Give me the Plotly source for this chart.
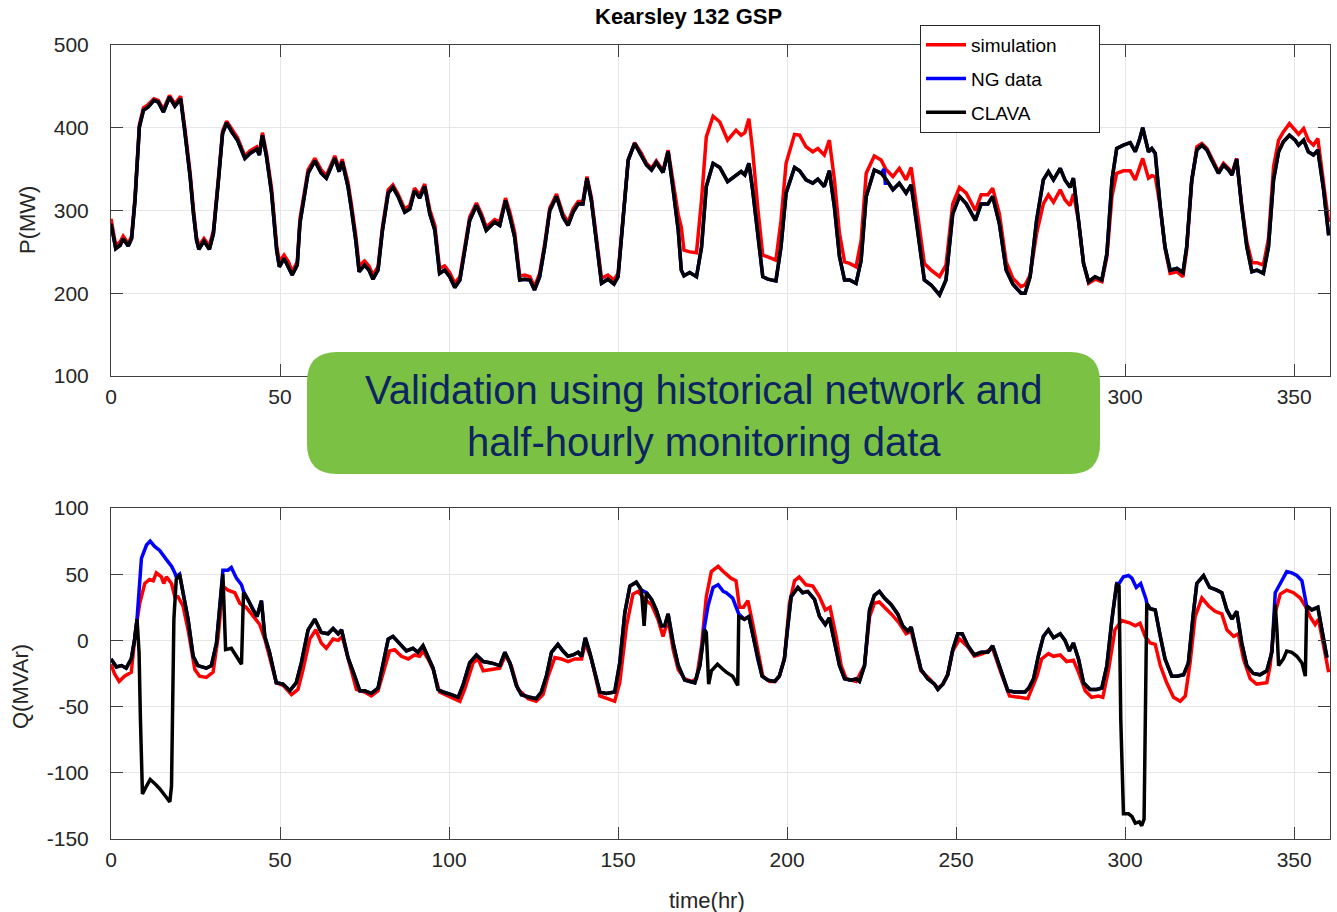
import plotly.graph_objects as go

W, H = 1337, 912

# ---------------- Top panel: active power P (MW) ----------------
T_P = [0, 1.4, 2.7, 3.6, 5.1, 6.1, 7.1, 8.4, 9.6, 11, 12.7, 14, 15.5, 17.3, 18.9, 20.6, 21.9, 23.4, 24.4, 25.3,
       26, 27.5, 29.1, 30.3, 31.8, 33, 34.2, 35.7, 37.4, 39.6, 41.1, 43.1, 43.9, 44.8, 46, 47.5, 49, 49.8, 51.2, 52.5,
       53.6, 55.1, 55.9, 58.3, 60.3, 62.2, 63.7, 66.2, 67.5, 68.4, 70.1, 71.1, 72.4, 73.4, 75, 76.3, 77.5, 79, 80.3, 82,
       83.4, 84.9, 86.9, 88.4, 89.8, 91.3, 92.8, 94.3, 95.8, 97.2, 98.7, 100.2, 101.7, 103.2, 104.6, 106.1, 108.1, 109.6, 111, 113.5,
       115, 116.7, 118, 119.4, 120.9, 122.4, 123.9, 125.3, 126.8, 128.3, 129.8, 131.8, 133.7, 135.2, 136.7, 138.2, 139.6, 140.8, 142.1, 143.6,
       145.1, 147, 148.8, 150, 151.5, 153, 154.9, 156.9, 158.4, 159.9, 161.3, 163.3, 164.8, 166.3, 167.8, 168.7, 169.5, 171.2, 173.2, 174.7,
       176.1, 178.1, 180.1, 182.4, 184.9, 186.4, 187.5, 188.7, 189.8, 191.3, 192.8, 194.3, 196.7, 198.2, 199.7, 202.2, 203.7, 205.6, 207.6, 209.1,
       211, 212.5, 214, 215.5, 217, 218.5, 220.4, 221.9, 223.4, 225.8, 227.8, 229.2, 231.3, 233.2, 235.2, 236.7, 238.2, 240.6, 242.6, 245.1,
       247, 249, 251, 253, 255.7, 257.4, 259.4, 260.8, 262.8, 264.8, 266.8, 269.2, 270.4, 271.9, 273.8, 275.8, 277.3, 278.8, 280.8, 282.2,
       283.7, 284.7, 286.2, 287.7, 289.2, 291.1, 293.1, 294.6, 296.1, 297.5, 299.5, 301.5, 303, 304.2, 305.2, 306.9, 307.9, 308.9, 310.4, 311.8,
       313.3, 315.3, 317.1, 318.2, 319.7, 321.2, 322.7, 324.2, 325.6, 327.6, 329.1, 330.6, 331.6, 333, 334.5, 336, 337.5, 339, 340.9, 342.4,
       343.9, 345.4, 346.8, 348.6, 350.3, 351.3, 352.8, 354.2, 355.7, 357, 358.7, 360.2]

P_CLAVA = [284, 254, 258, 266, 257, 266, 312, 401, 421, 425, 433, 431, 419, 437, 426, 435, 393, 341, 296, 264,
           253, 263, 253, 272, 337, 393, 406, 395, 385, 363, 369, 374, 367, 391, 365, 321, 252, 232, 242, 232,
           222, 234, 285, 345, 360, 345, 339, 363, 347, 359, 329, 302, 264, 226, 234, 228, 217, 228, 276, 321,
           328, 317, 298, 302, 324, 315, 329, 296, 276, 224, 228, 220, 207, 216, 252, 288, 306, 292, 276, 286,
           282, 312, 292, 268, 216, 217, 216, 204, 220, 256, 300, 317, 292, 282, 298, 308, 308, 339, 312, 264,
           212, 217, 211, 220, 296, 361, 381, 367, 355, 349, 358, 346, 371, 325, 276, 228, 221, 225, 220, 256,
           329, 357, 352, 335, 343, 347, 343, 357, 325, 276, 220, 217, 215, 256, 321, 352, 348, 337, 333, 338,
           329, 348, 304, 244, 216, 216, 212, 240, 317, 349, 345, 338, 325, 333, 321, 331, 289, 216, 210, 198,
           216, 296, 317, 308, 288, 308, 308, 317, 284, 228, 211, 200, 200, 220, 288, 337, 347, 337, 351, 337,
           328, 339, 288, 236, 214, 220, 216, 248, 337, 375, 379, 382, 371, 385, 400, 371, 375, 369, 304, 256,
           228, 230, 225, 256, 337, 373, 379, 373, 361, 345, 355, 349, 343, 362, 304, 256, 226, 228, 224, 256,
           337, 371, 383, 391, 385, 379, 385, 371, 367, 373, 325, 270]

P_SIM = [290, 258, 262, 269, 260, 269, 316, 404, 424, 428, 435, 433, 422, 439, 429, 438, 398, 346, 301, 268,
         257, 266, 257, 276, 341, 396, 408, 398, 388, 366, 372, 377, 370, 394, 369, 327, 258, 238, 246, 238,
         226, 238, 290, 349, 363, 349, 342, 366, 351, 362, 334, 308, 270, 233, 239, 233, 222, 232, 280, 325,
         331, 320, 302, 306, 327, 319, 332, 301, 282, 230, 233, 225, 212, 220, 256, 292, 309, 296, 280, 289,
         286, 315, 298, 274, 221, 222, 220, 208, 224, 260, 303, 320, 296, 286, 302, 311, 311, 341, 316, 268,
         218, 222, 216, 224, 294, 361, 382, 369, 357, 351, 360, 348, 373, 332, 295, 280, 252, 250, 249, 313,
         389, 414, 407, 385, 397, 391, 394, 411, 373, 304, 246, 244, 240, 288, 357, 392, 391, 377, 371, 375,
         367, 385, 337, 272, 238, 236, 232, 264, 345, 366, 361, 350, 341, 351, 337, 352, 308, 236, 228, 220,
         234, 308, 328, 321, 300, 319, 319, 327, 296, 238, 218, 208, 210, 222, 272, 308, 319, 310, 325, 313,
         306, 320, 288, 236, 212, 217, 214, 244, 317, 345, 348, 348, 337, 350, 363, 339, 342, 341, 304, 254,
         224, 226, 220, 252, 335, 377, 381, 375, 363, 347, 357, 351, 345, 363, 306, 262, 237, 237, 234, 266,
         353, 385, 395, 405, 397, 392, 399, 385, 379, 387, 333, 286]

# NG data (top) coincides with CLAVA except for this short stretch
P_NG_SEG_T = [228.7, 229.1]
P_NG_SEG_V = [350, 331]

# ---------------- Bottom panel: reactive power Q (MVAr) ----------------
T_QC = [0, 1.6, 3.1, 4.5, 6, 7, 7.7, 8.3, 8.7, 9.3, 10.5, 11.6, 12.9, 14.4, 15.9, 17.4, 17.9, 18.6, 19.3, 20.3,
        21.3, 22.8, 24.3, 25.7, 28.2, 29.7, 31.2, 32.2, 33.1, 33.9, 35.6, 37.1, 38.6, 39.2, 40.5, 42, 43.2, 44.5, 45.5, 46.9,
        48.9, 50.9, 52.9, 54.8, 56.3, 58.3, 60.3, 62.2, 64.2, 65.7, 67.2, 68.2, 70.1, 72.1, 73.6, 75, 77, 79, 80.5, 82,
        83.4, 85.4, 87.4, 89.3, 90.8, 92.3, 93.8, 95.3, 96.7, 98.2, 100.7, 102.7, 104.1, 106.1, 108.1, 110.1, 112.5, 115, 116.5, 118,
        119.9, 121.4, 123.9, 125.8, 127.3, 128.8, 130.3, 132.2, 133.7, 135.2, 136.7, 138.2, 139.2, 140.3, 141.6, 143.1, 144.6, 146.5, 149, 150.5,
        152, 153.5, 155.4, 156.9, 157.7, 158.4, 159.9, 161.3, 162.8, 163.8, 164.8, 166.3, 167.8, 169.7, 171.2, 172.7, 174.2, 175.6, 176.1, 176.8,
        177.6, 179.4, 181.1, 182, 183.9, 185.4, 185.7, 187.4, 188.7, 189.8, 191.3, 192.6, 194.3, 196.3, 197.7, 199.2, 200.2, 201.2, 203.2, 204.6,
        206.1, 208.1, 209.6, 211.3, 212.5, 214, 215.5, 217, 218.9, 220.4, 221.4, 222.9, 224.4, 225.8, 227.3, 228.8, 230.8, 232.7, 234.2, 235.7,
        236.7, 238.2, 239.6, 241.6, 243.6, 244.6, 246.1, 247.5, 249, 250.5, 251.8, 253.5, 255.4, 257.4, 259.4, 260.8, 262.8, 265.3, 267.3, 269.2,
        270.4, 271.5, 272.9, 274.4, 275.8, 277.3, 278.8, 280.8, 282.2, 283.5, 284.7, 286.2, 287.7, 289.6, 291.6, 293.1, 294.6, 296.1, 297.5, 298.2,
        298.7, 299.5, 301, 302, 303, 304.2, 304.9, 305.6, 306, 306.4, 307.4, 308.9, 310.4, 311.8, 313.8, 315.3, 317.3, 318.7, 320.2, 321.2,
        323.2, 325, 327.1, 328.6, 330.1, 331.6, 333, 334.5, 336, 337.9, 339.9, 341.9, 343.4, 344.4, 344.9, 345.4, 346.8, 347.8, 349.3, 350.8,
        352.3, 353.3, 353.7, 355.2, 357, 358.2, 359.7]

Q_CLAVA = [-14, -20, -19, -21, -14, 1, 16, -9, -59, -116, -110, -105, -108, -112, -117, -122, -110, 16, 46, 50,
           36, 16, -12, -19, -21, -19, -2, 26, 50, -7, -6, -12, -18, 36, 31, 23, 18, 30, 3, -9,
           -32, -33, -38, -32, -17, 8, 16, 6, 5, 9, 5, 8, -13, -27, -38, -38, -40, -36, -19, 1,
           3, -3, -8, -6, -9, -4, -12, -21, -37, -39, -41, -43, -34, -17, -11, -16, -17, -19, -9, -17,
           -34, -41, -43, -44, -39, -27, -9, -3, -8, -12, -11, -9, -12, 2, -9, -24, -39, -40, -39, -17,
           21, 41, 44, 38, 11, 36, 31, 23, 11, 11, 20, -2, -19, -30, -31, -32, -19, 8, 6, -33,
           -23, -18, -22, -24, -27, -34, 18, 16, 18, 5, -14, -27, -30, -31, -27, -14, 11, 33, 40, 36,
           37, 31, 18, 12, 17, -2, -19, -29, -30, -29, -31, -19, 23, 34, 37, 32, 27, 20, 11, 7,
           10, -7, -22, -29, -33, -37, -33, -26, -7, 5, 5, -4, -11, -9, -9, -4, -19, -38, -39, -39,
           -39, -36, -29, -11, 3, 8, 2, 5, 0, -8, -2, -14, -32, -37, -37, -36, -19, 16, 43, 41,
           -59, -131, -131, -133, -138, -137, -140, -135, -34, 28, 24, 23, 3, -14, -27, -27, -26, -17, 21, 43,
           49, 40, 38, 36, 23, 16, 22, -2, -19, -25, -26, -23, -9, 27, 8, -19, -14, -8, -9, -12,
           -17, -27, 26, 23, 25, 8, -13]

T_QS = [0, 1, 2.4, 4, 6, 7.3, 8.5, 10, 11.4, 12.5, 13.4, 14.9, 15.6, 16.4, 17.9, 18.9, 19.8, 21.3, 22.8, 24.8,
        26.2, 28.2, 30.2, 31.7, 33.1, 34.6, 36.6, 38.1, 40, 42, 44, 45.5, 46.9, 48.9, 50.9, 53.4, 55.3, 56.8, 58.8, 60.6,
        62.2, 63.7, 65.7, 67.2, 68.4, 70.1, 72.6, 75, 77, 79, 81, 82.4, 83.9, 85.9, 87.9, 89.8, 91.3, 92.3, 93.8, 95.3,
        97.2, 100.7, 103.2, 104.6, 107.1, 108.6, 110.1, 112.5, 115, 116.7, 118.4, 120.4, 123.4, 125.8, 127.8, 129.3, 131.3, 133.2, 135.2, 137.2,
        139.2, 140.3, 142.1, 144.6, 147, 149, 150.5, 152.5, 154.4, 155.9, 157.9, 159.9, 161.8, 163.3, 164.8, 166.3, 167.8, 169.7, 171.7, 173.2,
        174.7, 176.1, 177.6, 179.6, 181.1, 182, 183.4, 184.9, 185.9, 187.1, 188.4, 189.8, 191.3, 192.8, 194.8, 196.5, 197.7, 199.2, 200.7, 202.2,
        203.6, 205.6, 207.6, 209.6, 211.3, 212.7, 214.5, 216, 217.5, 220.4, 222.9, 224.4, 225.8, 227.3, 228.8, 230.8, 233.2, 235.2, 236.7, 238.2,
        239.6, 242.1, 244.6, 246.1, 247.5, 249, 251, 253.5, 255.4, 257.9, 260.8, 263.2, 265.8, 268.7, 271.2, 273.9, 275.3, 277.3, 278.8, 280.8,
        282.7, 284.7, 286.2, 288.2, 290.1, 292.1, 293.4, 295.1, 297, 299, 301.5, 303, 304.4, 305.9, 307.4, 308.9, 310.4, 312.3, 314.3, 316.3,
        317.8, 319.2, 320.7, 322.7, 324.7, 326.6, 328.6, 330.1, 332.1, 333.5, 335, 337, 338.9, 341.9, 342.9, 344.4, 345.9, 347.8, 349.8, 351.8,
        353.3, 354.7, 356.2, 357.2, 358.7, 360.2]

Q_SIM = [-18, -25, -31, -27, -24, 8, 28, 43, 46, 45, 51, 48, 43, 48, 43, 33, 33, 26, 8, -22,
         -27, -28, -24, 3, 41, 38, 36, 28, 25, 18, 12, 1, -12, -32, -34, -41, -37, -22, 1, 8,
         -2, -6, 1, 0, 3, -14, -37, -39, -42, -38, -19, -8, -7, -12, -14, -11, -12, -8, -14, -22,
         -39, -43, -46, -37, -17, -14, -23, -22, -21, -11, -19, -37, -44, -46, -41, -27, -13, -14, -16, -14,
         -14, -2, -14, -42, -44, -46, -32, 11, 35, 37, 31, 27, 16, 3, 16, -7, -22, -29, -31, -29,
         -4, 33, 52, 56, 52, 50, 47, 45, 25, 25, 30, 13, -7, -27, -31, -31, -27, -14, 28, 45,
         48, 42, 41, 33, 23, 25, 3, -19, -29, -31, -19, 18, 28, 29, 25, 20, 13, 5, 7, -8,
         -23, -29, -36, -33, -26, -8, 1, -5, -12, -10, -6, -24, -42, -43, -44, -27, -14, -10, -12, -11,
         -16, -15, -24, -38, -43, -42, -43, -22, 8, 15, 13, 11, 13, 3, -2, -3, -19, -32, -43, -46,
         -42, -17, 18, 32, 26, 22, 20, 8, 3, 5, -14, -29, -33, -32, -19, 21, 35, 38, 36, 32,
         26, 18, 12, 16, -4, -24]

# NG data (bottom) coincides with CLAVA except over these stretches
Q_NG_SEGMENTS = [
    ([7.7, 9, 10.5, 11.6, 12.9, 14.4, 16.4, 17.9, 18.9, 19.3], [16, 62, 72, 75, 71, 68, 61, 56, 51, 48]),
    ([33.1, 34.6, 35.6, 37.1, 38.6, 39.2], [53, 53, 55, 47, 42, 37]),
    ([157.7], [37]),
    ([175.6, 176.6, 178.1, 179.6, 181.1, 182, 183.9, 185.4, 185.7], [11, 26, 40, 42, 37, 36, 32, 22, 20]),
    ([298.2, 299.5, 301, 302, 303.3, 304.6, 306.2, 306.4], [43, 48, 49, 47, 40, 43, 31, 28]),
    ([344.4, 345.9, 347.8, 349.3, 350.8, 352.3, 353.6, 353.7], [36, 43, 52, 51, 49, 45, 28, 26]),
]

X_TICKS = [0, 50, 100, 150, 200, 250, 300, 350]
X_LABELS_BOTTOM = ["0", "50", "100", "150", "200", "250", "300", "350"]
# the top panel's 100-250 labels sit hidden behind the green banner
X_LABELS_TOP = ["0", "50", "", "", "", "", "300", "350"]
P_TICKS = [100, 200, 300, 400, 500]
P_LABELS = ["100", "200", "300", "400", "500"]
Q_TICKS = [-150, -100, -50, 0, 50, 100]
Q_LABELS = ["-150", "-100", "-50", "0", "50", "100"]


def merge(base_t, base_v, segments):
    windows = [(min(st), max(st)) for st, sv in segments]
    pts = [(t, v) for t, v in zip(base_t, base_v) if not any(a <= t <= b for a, b in windows)]
    for st, sv in segments:
        pts += list(zip(st, sv))
    pts.sort()
    return [p[0] for p in pts], [p[1] for p in pts]


T_PNG, P_NG = merge(T_P, P_CLAVA, [(P_NG_SEG_T, P_NG_SEG_V)])
T_QNG, Q_NG = merge(T_QC, Q_CLAVA, Q_NG_SEGMENTS)

FONT = "Liberation Sans, Arial, Helvetica, sans-serif"
LW = 3.5
RED, BLUE, BLACK = "#ff0000", "#0000ff", "#000000"
PAD = "\u00a0" * 7

fig = go.Figure()
# top
fig.add_trace(go.Scatter(x=T_P, y=P_SIM, mode="lines", name="simulation" + PAD, legendgroup="a",
                         line=dict(color=RED, width=LW), xaxis="x", yaxis="y"))
fig.add_trace(go.Scatter(x=T_PNG, y=P_NG, mode="lines", name="NG data", legendgroup="b",
                         line=dict(color=BLUE, width=LW), xaxis="x", yaxis="y"))
fig.add_trace(go.Scatter(x=T_P, y=P_CLAVA, mode="lines", name="CLAVA", legendgroup="c",
                         line=dict(color=BLACK, width=LW), xaxis="x", yaxis="y"))
# bottom
fig.add_trace(go.Scatter(x=T_QS, y=Q_SIM, mode="lines", name="simulation", showlegend=False,
                         line=dict(color=RED, width=LW), xaxis="x2", yaxis="y2"))
fig.add_trace(go.Scatter(x=T_QNG, y=Q_NG, mode="lines", name="NG data", showlegend=False,
                         line=dict(color=BLUE, width=LW), xaxis="x2", yaxis="y2"))
fig.add_trace(go.Scatter(x=T_QC, y=Q_CLAVA, mode="lines", name="CLAVA", showlegend=False,
                         line=dict(color=BLACK, width=LW), xaxis="x2", yaxis="y2"))

AX_COL = "#404040"
GRID = "#e6e6e6"
TICKFONT = dict(family=FONT, size=21, color="#262626")


def xax(anchor, labels):
    return dict(domain=[111 / W, 1330 / W], range=[0, 360.6], anchor=anchor,
                tickmode="array", tickvals=X_TICKS, ticktext=labels, automargin=False,
                showline=True, linecolor=AX_COL, linewidth=1, mirror="ticks",
                ticks="inside", ticklen=12, tickcolor=AX_COL, tickwidth=1,
                showgrid=True, gridcolor=GRID, gridwidth=1, zeroline=False,
                tickfont=TICKFONT, ticklabelstandoff=2)


def yax(anchor, dom, rng, ticks, labels):
    return dict(domain=dom, range=rng, anchor=anchor, tickmode="array", tickvals=ticks, ticktext=labels,
                automargin=False,
                showline=True, linecolor=AX_COL, linewidth=1, mirror="ticks",
                ticks="inside", ticklen=12, tickcolor=AX_COL, tickwidth=1,
                showgrid=True, gridcolor=GRID, gridwidth=1, zeroline=False,
                tickfont=TICKFONT, ticklabelstandoff=17)


# rounded green box (pixel geometry -> paper coords)
def px(x):
    return x / W


def py(y):
    return 1 - y / H


x0, x1, y0, y1, r = 307, 1100, 352, 474, 30
path = (f"M {px(x0 + r)},{py(y0)} L {px(x1 - r)},{py(y0)} Q {px(x1)},{py(y0)} {px(x1)},{py(y0 + r)} "
        f"L {px(x1)},{py(y1 - r)} Q {px(x1)},{py(y1)} {px(x1 - r)},{py(y1)} "
        f"L {px(x0 + r)},{py(y1)} Q {px(x0)},{py(y1)} {px(x0)},{py(y1 - r)} "
        f"L {px(x0)},{py(y0 + r)} Q {px(x0)},{py(y0)} {px(x0 + r)},{py(y0)} Z")

fig.update_layout(
    width=W, height=H, margin=dict(l=0, r=0, t=0, b=0, autoexpand=False),
    paper_bgcolor="white", plot_bgcolor="white",
    xaxis=xax("y", X_LABELS_TOP),
    yaxis=yax("x", [1 - 376 / H, 1 - 45 / H], [100, 500], P_TICKS, P_LABELS),
    xaxis2=xax("y2", X_LABELS_BOTTOM),
    yaxis2=yax("x2", [1 - 839 / H, 1 - 508 / H], [-150, 100], Q_TICKS, Q_LABELS),
    showlegend=True,
    legend=dict(x=920 / W, y=1 - 25 / H, xanchor="left", yanchor="top",
                bgcolor="white", bordercolor="#262626", borderwidth=1,
                font=dict(family=FONT, size=19, color="#000000"), tracegroupgap=6,
                itemwidth=40),
    shapes=[dict(type="path", path=path, xref="paper", yref="paper", layer="above",
                 fillcolor="#7bc143", line=dict(width=0))],
    annotations=[
        dict(text="<b>Kearsley 132 GSP</b>", x=688 / W, y=1 - 17 / H, xref="paper", yref="paper",
             showarrow=False, font=dict(family=FONT, size=22, color="#000000"), xanchor="center", yanchor="middle"),
        dict(text="P(MW)", x=28 / W, y=1 - 220 / H, xref="paper", yref="paper", textangle=-90,
             showarrow=False, font=dict(family=FONT, size=22, color="#262626"), xanchor="center", yanchor="middle"),
        dict(text="Q(MVAr)", x=20 / W, y=1 - 687 / H, xref="paper", yref="paper", textangle=-90,
             showarrow=False, font=dict(family=FONT, size=22, color="#262626"), xanchor="center", yanchor="middle"),
        dict(text="time(hr)", x=707 / W, y=1 - 900 / H, xref="paper", yref="paper",
             showarrow=False, font=dict(family=FONT, size=22, color="#262626"), xanchor="center", yanchor="middle"),
        dict(text="Validation using historical network and<br>half-hourly monitoring data",
             x=703 / W, y=1 - 416 / H, xref="paper", yref="paper", showarrow=False,
             font=dict(family=FONT, size=40, color="#0c2461"), xanchor="center", yanchor="middle",
             align="center"),
    ],
)

fig.write_html("out.html")
